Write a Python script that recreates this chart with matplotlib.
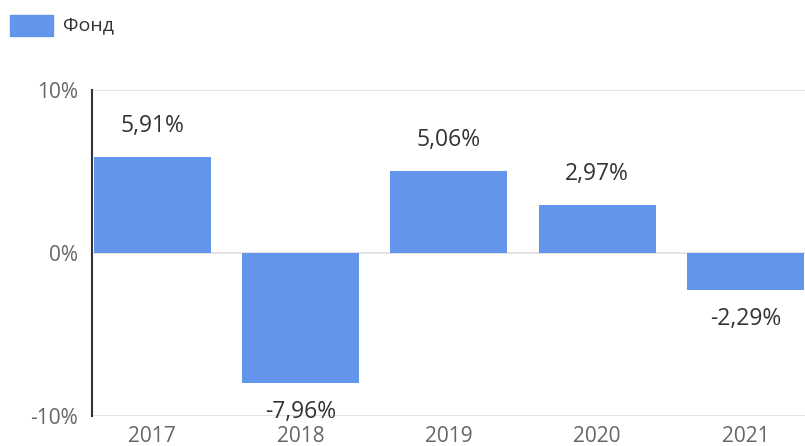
import matplotlib
matplotlib.use("Agg")
import matplotlib.pyplot as plt
from matplotlib.patches import Rectangle

plt.rcParams['font.family'] = ['Open Sans', 'DejaVu Sans']

years = ["2017", "2018", "2019", "2020", "2021"]
values = [5.91, -7.96, 5.06, 2.97, -2.29]
value_labels = ["5,91%", "-7,96%", "5,06%", "2,97%", "-2,29%"]
yticks = [-10, 0, 10]
ytick_labels = ["-10%", "0%", "10%"]
series_name = "Фонд"
bar_color = "#6495ED"

fig = plt.figure(figsize=(8.05, 4.46), dpi=100)
ax = fig.add_axes([92/805, 30/446, 1 - 92/805, 326/446])

x = list(range(len(years)))
ax.bar(x, values, width=0.79, color=bar_color, zorder=2)

ax.set_xlim(-0.406, 4.402)
ax.set_ylim(-10, 10)
ax.set_yticks(yticks)
ax.set_yticklabels(ytick_labels)
ax.set_xticks(x)
ax.set_xticklabels(years)
for yv in yticks:
    ax.axhline(yv, color="#e0e0e0", lw=1.3, zorder=1)

for s in ["top", "right", "bottom"]:
    ax.spines[s].set_visible(False)
ax.spines["left"].set_color("#333333")
ax.spines["left"].set_linewidth(1.5)
ax.spines["left"].set_zorder(3)

ax.tick_params(axis="both", length=0, labelsize=15, labelcolor="#666666")
ax.tick_params(axis="y", pad=10)
ax.tick_params(axis="x", pad=7.5)

for xi, v, lab in zip(x, values, value_labels):
    off = 22 if v >= 0 else -21
    ax.annotate(lab, (xi, v), xytext=(0, off), textcoords="offset points",
                ha="center", va="center", fontsize=16.5, color="#333333",
                annotation_clip=False, zorder=4)

# legend
fig.patches.append(Rectangle((10/805, 1 - 36/446), 43/805, 21/446,
                             transform=fig.transFigure, color=bar_color))
fig.text(63/805, 1 - 25.5/446, series_name, ha="left", va="center",
         fontsize=14, color="#333333")

fig.savefig("out.png", dpi=100)
